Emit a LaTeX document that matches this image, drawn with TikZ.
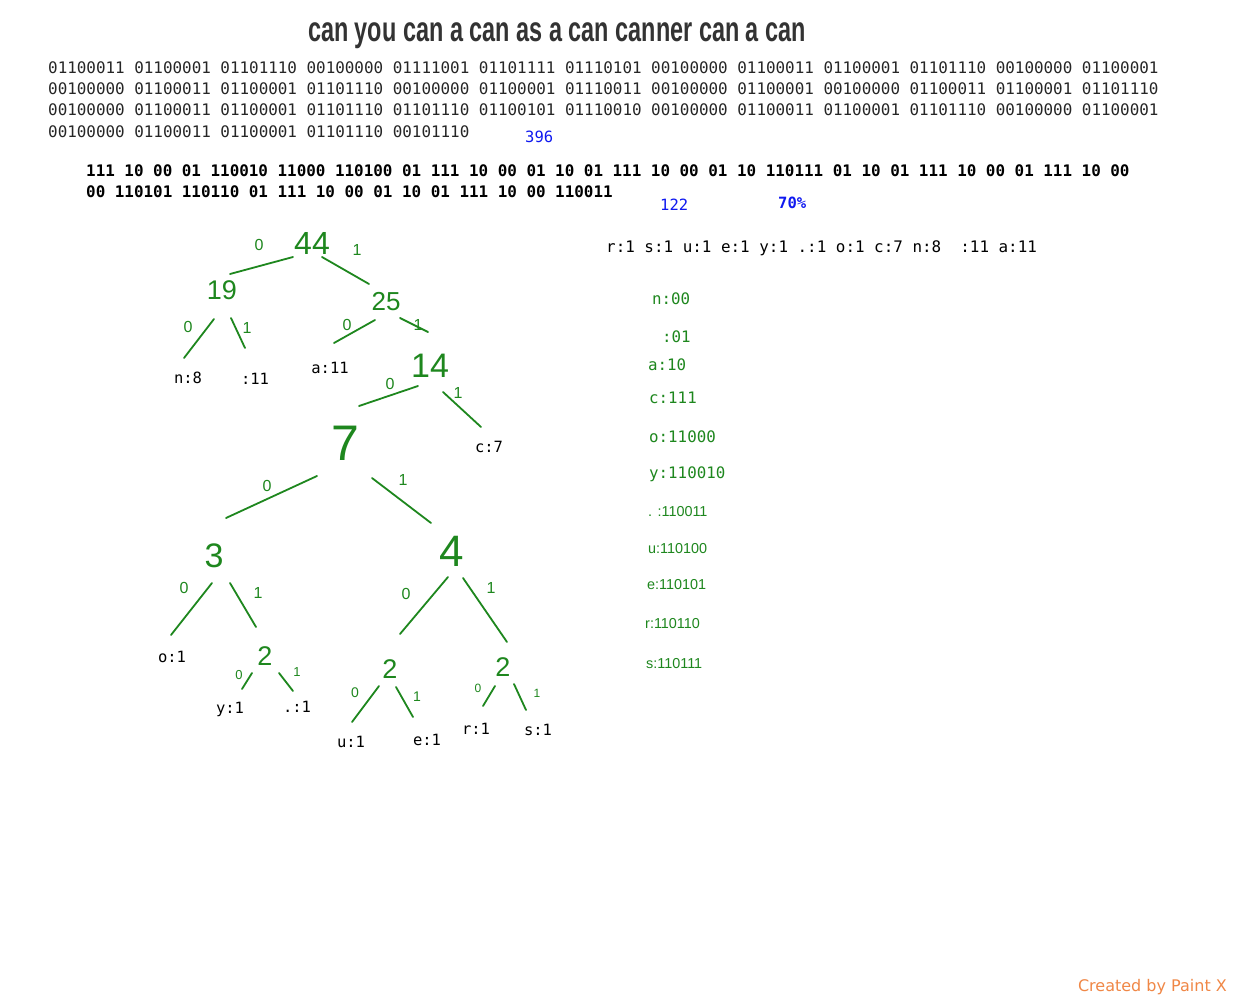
\documentclass[tikz,border=0pt]{standalone}
\usepackage{fontspec}
\setmainfont{Liberation Sans}
\newfontfamily\monof{DejaVu Sans Mono}
\newfontfamily\dejaf{DejaVu Sans}
\definecolor{handc}{RGB}{30,135,30}
\definecolor{bluet}{RGB}{15,25,240}
\definecolor{paintc}{RGB}{240,135,70}
\newcommand\myfs[1]{\fontsize{#1}{#1}\selectfont}
\newcommand\tedge[3]{\coordinate (#1a) at (#2); \coordinate (#1b) at (#3); \draw[edge] (#1a) -- (#1b);}
\tikzset{
  bin/.style={anchor=base west, inner sep=0pt, font=\monof\myfs{15.9}, text=black!85},
  codeln/.style={anchor=base west, inner sep=0pt, font=\monof\bfseries\myfs{15.9}},
  leaf/.style={anchor=base, inner sep=0pt, font=\monof\myfs{15.5}},
  handnum/.style={text=handc, inner sep=0pt, font=\myfs{#1}},
  bitlbl/.style={text=handc, inner sep=0pt, font=\myfs{16}},
  edge/.style={draw=handc, line width=1.8pt, line cap=round},
  legm/.style={anchor=base west, inner sep=0pt, text=handc, font=\monof\myfs{15.8}},
  legp/.style={anchor=base west, inner sep=0pt, text=handc, font=\myfs{14.4}},
  bluenum/.style={anchor=base west, inner sep=0pt, text=bluet, font=\monof\myfs{15.5}},
}
\begin{document}
\begin{tikzpicture}[x=1pt,y=-1pt]
\fill[white] (0,0) rectangle (1233,1000);
\useasboundingbox (0,0) rectangle (1233,1000);

% title
\node[anchor=base, inner sep=0pt, font=\bfseries\myfs{35}, text=black!80] (title) at (557,42)
  {\scalebox{0.67}[1]{can you can a can as a can canner can a can}};

% binary rows
\node[bin] (b1) at (48,74) {01100011 01100001 01101110 00100000 01111001 01101111 01110101 00100000 01100011 01100001 01101110 00100000 01100001};
\node[bin] (b2) at (48,95) {00100000 01100011 01100001 01101110 00100000 01100001 01110011 00100000 01100001 00100000 01100011 01100001 01101110};
\node[bin] (b3) at (48,116) {00100000 01100011 01100001 01101110 01101110 01100101 01110010 00100000 01100011 01100001 01101110 00100000 01100001};
\node[bin] (b4) at (48,138) {00100000 01100011 01100001 01101110 00101110};
\node[bluenum] (n396) at (525,143) {396};

% huffman code
\node[codeln] (c1) at (86,177) {111 10 00 01 110010 11000 110100 01 111 10 00 01 10 01 111 10 00 01 10 110111 01 10 01 111 10 00 01 111 10 00};
\node[codeln] (c2) at (86,198) {00 110101 110110 01 111 10 00 01 10 01 111 10 00 110011};
\node[bluenum] (n122) at (660,211) {122};
\node[bluenum, font=\monof\bfseries\myfs{15.5}] (n70) at (778,209) {70\%};

% frequencies
\node[anchor=base west, inner sep=0pt, font=\monof\myfs{15.9}] (freq) at (606,253) {r:1 s:1 u:1 e:1 y:1 .:1 o:1 c:7 n:8\ \ :11 a:11};

% legend
\node[legm] (l1) at (652,304) {n:00};
\node[legm] (l2) at (662,342) {:01};
\node[legm] (l3) at (648,370) {a:10};
\node[legm] (l4) at (649,403) {c:111};
\node[legm] (l5) at (649,442) {o:11000};
\node[legm] (l6) at (649,478) {y:110010};
\node[legp] (l7) at (648,516) {. :110011};
\node[legp] (l8) at (648,553) {u:110100};
\node[legp] (l9) at (647,589) {e:110101};
\node[legp] (l10) at (645,628) {r:110110};
\node[legp] (l11) at (646,668) {s:110111};

% tree: internal numbers
\node[handnum=32] (t44) at (312,243) {44};
\node[handnum=27] (t19) at (222,290) {19};
\node[handnum=26] (t25) at (386,302) {25};
\node[handnum=34] (t14) at (430,366) {14};
\node[handnum=50] (t7) at (345,443) {7};
\node[handnum=34] (t3) at (214,556) {3};
\node[handnum=44] (t4) at (452,551) {4};
\node[handnum=27] (t2a) at (265,656) {2};
\node[handnum=27] (t2b) at (390,669) {2};
\node[handnum=27] (t2c) at (503,667) {2};

% leaves
\node[leaf] (ln) at (188,383) {n:8};
\node[leaf] (lsp) at (255,384) {:11};
\node[leaf] (la) at (330,373) {a:11};
\node[leaf] (lc) at (489,452) {c:7};
\node[leaf] (lo) at (172,662) {o:1};
\node[leaf] (ly) at (230,713) {y:1};
\node[leaf] (ldot) at (297,712) {.:1};
\node[leaf] (lu) at (351,747) {u:1};
\node[leaf] (le) at (427,745) {e:1};
\node[leaf] (lr) at (476,734) {r:1};
\node[leaf] (ls) at (538,735) {s:1};

% edges
\tedge{e44l}{293,257}{230,274}
\tedge{e44r}{322,257}{369,284}
\tedge{e19l}{214,319}{184,358}
\tedge{e19r}{231,318}{245,348}
\tedge{e25l}{375,320}{334,343}
\tedge{e25r}{400,318}{428,332}
\tedge{e14l}{418,386}{359,406}
\tedge{e14r}{443,392}{481,427}
\tedge{e7l}{317,476}{226,518}
\tedge{e7r}{372,478}{431,523}
\tedge{e3l}{212,583}{171,635}
\tedge{e3r}{230,583}{256,627}
\tedge{e2al}{252,673}{242,689}
\tedge{e2ar}{279,673}{293,691}
\tedge{e4l}{448,577}{400,634}
\tedge{e4r}{463,578}{507,642}
\tedge{e2bl}{379,686}{352,722}
\tedge{e2br}{396,687}{413,717}
\tedge{e2cl}{495,686}{483,706}
\tedge{e2cr}{514,684}{526,710}

% bit labels
\node[bitlbl] (b44l) at (259,245) {0};
\node[bitlbl] (b44r) at (357,250) {1};
\node[bitlbl] (b19l) at (188,327) {0};
\node[bitlbl] (b19r) at (247,328) {1};
\node[bitlbl] (b25l) at (347,325) {0};
\node[bitlbl] (b25r) at (418,325) {1};
\node[bitlbl] (b14l) at (390,384) {0};
\node[bitlbl] (b14r) at (458,393) {1};
\node[bitlbl] (b7l) at (267,486) {0};
\node[bitlbl] (b7r) at (403,480) {1};
\node[bitlbl] (b3l) at (184,588) {0};
\node[bitlbl] (b3r) at (258,593) {1};
\node[bitlbl, font=\myfs{13}] (b2al) at (239,675) {0};
\node[bitlbl, font=\myfs{13}] (b2ar) at (297,672) {1};
\node[bitlbl] (b4l) at (406,594) {0};
\node[bitlbl] (b4r) at (491,588) {1};
\node[bitlbl, font=\myfs{14}] (b2bl) at (355,693) {0};
\node[bitlbl, font=\myfs{14}] (b2br) at (417,697) {1};
\node[bitlbl, font=\myfs{12}] (b2cl) at (478,688) {0};
\node[bitlbl, font=\myfs{12}] (b2cr) at (537,693) {1};

% footer
\node[anchor=base east, inner sep=0pt, text=paintc, font=\dejaf\myfs{16}] (credit) at (1227,991) {Created by Paint X};
\end{tikzpicture}
\end{document}
